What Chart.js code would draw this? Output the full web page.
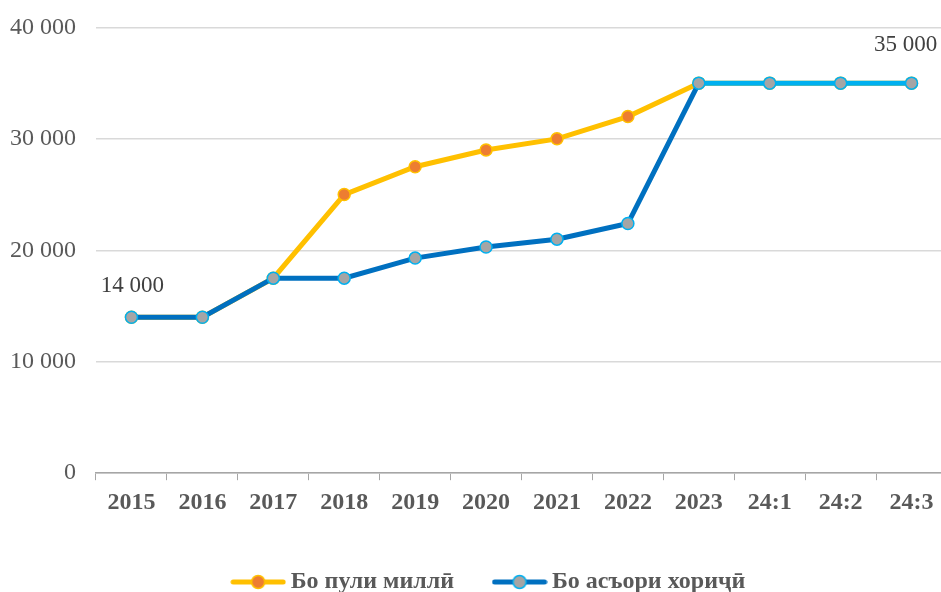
<!DOCTYPE html>
<html>
<head>
  <title>Exchange chart</title>
  <script src="https://cdn.jsdelivr.net/npm/chart.js"></script>
  <style>
    body { margin: 0; background: #fff; overflow: hidden; }
    #wrap { width: 947px; height: 599px; margin-top: -7px; }
  </style>
</head>
<body>
  <div id="wrap"><canvas id="myChart"></canvas></div>

  <script>
    // Data
    const categories = ['2015', '2016', '2017', '2018', '2019', '2020', '2021', '2022', '2023', '24:1', '24:2', '24:3'];
    const nationalCurrency = [14000, 14000, 17500, 25000, 27500, 29000, 30000, 32000, 35000, 35000, 35000, 35000];
    const foreignCurrency = [14000, 14000, 17500, 17500, 19300, 20300, 21000, 22400, 35000, 35000, 35000, 35000];
    const seriesNames = ['Бо пули миллӣ', 'Бо асъори хориҷӣ'];
    const labelledPoints = [0, 11]; // foreign currency points that carry a value label

    const fontFamily = '"Liberation Serif", "Times New Roman", serif';
    const textColor = '#595959';

    // legend marker: line with a dot on it
    function legendMarker(lineColor, dotFill, dotStroke) {
      const c = document.createElement('canvas');
      c.width = 56; c.height = 16;
      const g = c.getContext('2d');
      g.strokeStyle = lineColor;
      g.lineWidth = 5;
      g.lineCap = 'round';
      g.beginPath(); g.moveTo(3, 8); g.lineTo(53, 8); g.stroke();
      g.fillStyle = dotFill;
      g.strokeStyle = dotStroke;
      g.lineWidth = 1.5;
      g.beginPath(); g.arc(28, 8, 6.5, 0, Math.PI * 2); g.fill(); g.stroke();
      return c;
    }
    const markers = [
      legendMarker('#FFC000', '#ED7D31', '#FFC000'),
      legendMarker('#0070C0', '#A5A5A5', '#00B0F0')
    ];

    const fmt = v => v === 0 ? '0' : String(v).replace(/\B(?=(\d{3})+(?!\d))/g, ' ');

    // value labels for the blue series
    const valueLabels = {
      id: 'valueLabels',
      afterDatasetsDraw(chart) {
        const meta = chart.getDatasetMeta(1);
        const ctx = chart.ctx;
        ctx.save();
        ctx.font = '23px ' + fontFamily;
        ctx.fillStyle = '#404040';
        ctx.textAlign = 'center';
        ctx.textBaseline = 'middle';
        labelledPoints.forEach((i, k) => {
          const pt = meta.data[i];
          if (k === 0) ctx.fillText(fmt(foreignCurrency[i]), pt.x + 1, pt.y - 31);
          else ctx.fillText(fmt(foreignCurrency[i]), pt.x - 6, pt.y - 38);
        });
        ctx.restore();
      }
    };

    // the legend sits a little right of centre in the original
    const legendShift = {
      id: 'legendShift',
      afterLayout(chart) {
        chart.legend.left += 18;
        chart.legend.right += 18;
      }
    };

    const ctx = document.getElementById('myChart').getContext('2d');
    new Chart(ctx, {
      type: 'line',
      data: {
        labels: categories,
        datasets: [
          {
            label: seriesNames[0],
            data: nationalCurrency,
            borderColor: '#FFC000',
            borderWidth: 5,
            pointBackgroundColor: '#ED7D31',
            pointBorderColor: '#FFC000',
            pointBorderWidth: 1.5,
            pointRadius: 6,
            tension: 0,
            order: 1
          },
          {
            label: seriesNames[1],
            data: foreignCurrency,
            borderColor: '#0070C0',
            borderWidth: 5,
            pointBackgroundColor: '#A5A5A5',
            pointBorderColor: '#00B0F0',
            pointBorderWidth: 1.5,
            pointRadius: 6,
            tension: 0,
            order: 0,
            segment: {
              borderColor: c => c.p0DataIndex >= 8 ? '#00B0F0' : '#0070C0'
            }
          }
        ]
      },
      options: {
        responsive: true,
        maintainAspectRatio: false,
        animation: false,
        layout: { autoPadding: false, padding: { top: 20, right: 0, left: 0, bottom: -12 } },
        plugins: {
          tooltip: { enabled: false },
          legend: {
            position: 'bottom',
            labels: {
              usePointStyle: true,
              pointStyleWidth: 41,
              padding: 45,
              color: textColor,
              font: { family: fontFamily, size: 24, weight: 'bold' },
              generateLabels(chart) {
                return chart.data.datasets.map((d, i) => ({
                  text: d.label,
                  pointStyle: markers[i],
                  datasetIndex: i,
                  fontColor: textColor,
                  lineWidth: 0,
                  strokeStyle: 'transparent',
                  fillStyle: 'transparent'
                }));
              }
            }
          }
        },
        scales: {
          x: {
            offset: true,
            grid: {
              offset: true,
              drawOnChartArea: false,
              drawTicks: true,
              tickLength: 7,
              color: '#a6a6a6'
            },
            border: { color: '#a6a6a6', width: 1.5 },
            ticks: {
              color: textColor,
              padding: 8,
              maxRotation: 0,
              autoSkip: false,
              font: { family: fontFamily, size: 24, weight: 'bold' }
            }
          },
          y: {
            min: 0,
            max: 40000,
            afterFit(scale) { scale.width = 96; },
            ticks: {
              stepSize: 10000,
              color: textColor,
              padding: 20,
              font: { family: fontFamily, size: 24 },
              callback: v => fmt(v)
            },
            grid: { color: '#d9d9d9', lineWidth: 1.5, drawTicks: false },
            border: { display: false }
          }
        }
      },
      plugins: [valueLabels, legendShift]
    });
  </script>
</body>
</html>
